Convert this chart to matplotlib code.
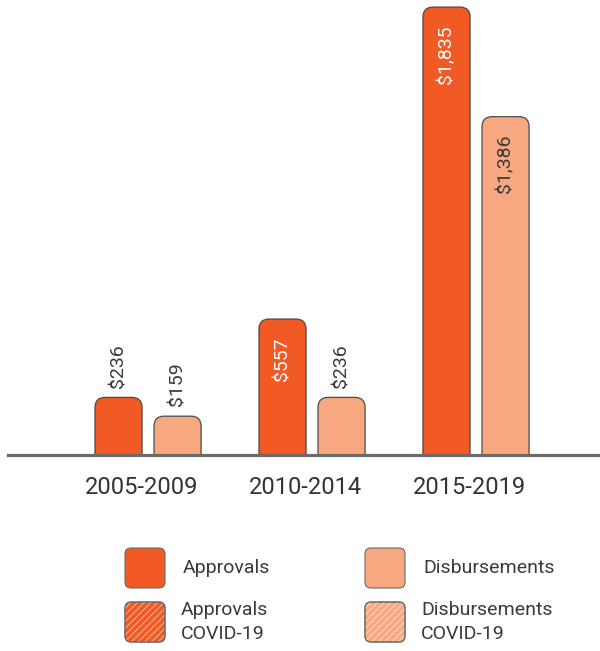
import matplotlib
matplotlib.use("Agg")
import matplotlib.pyplot as plt
from matplotlib.patches import FancyBboxPatch

periods = ["2005-2009", "2010-2014", "2015-2019"]
approvals = [236, 557, 1835]
disbursements = [159, 236, 1386]
legend_labels = ["Approvals", "Disbursements", "Approvals\nCOVID-19", "Disbursements\nCOVID-19"]

C_APP = "#F15A24"
C_DIS = "#F7A880"
EDGE = "#4a4a4a"
TXT = "#3a3a3a"

plt.rcParams['font.family'] = ['Roboto', 'DejaVu Sans']
plt.rcParams['hatch.linewidth'] = 0.7

W, H = 600, 651
fig = plt.figure(figsize=(W / 100, H / 100), dpi=100)
base_px = 455
ax = fig.add_axes([8 / W, (H - base_px) / H, 1 - 8 / W, base_px / H])
ax.set_xlim(-0.854, 2.756)
ax.set_ylim(0, 1864)

ux = (2.756 + 0.854) / (W - 8)
uy = 1864 / base_px
aspect = uy / ux
bw = 0.287
off = 0.18
r = 10 * ux

def rbar(xc, h, color):
    p = FancyBboxPatch((xc - bw / 2, -200), bw, h + 200,
                       boxstyle=f"round,pad=0,rounding_size={r}",
                       mutation_aspect=aspect, facecolor=color,
                       edgecolor=EDGE, linewidth=0.9, clip_on=True, zorder=2)
    ax.add_patch(p)

def label(xc, h, inside_color):
    s = f"${h:,}"
    if h > 300:
        ax.annotate(s, (xc, h), xytext=(0, -13), textcoords="offset points",
                    rotation=90, ha="center", va="top", color=inside_color,
                    fontsize=14, zorder=3)
    else:
        ax.annotate(s, (xc, h), xytext=(0, 7), textcoords="offset points",
                    rotation=90, ha="center", va="bottom", color=TXT,
                    fontsize=14, zorder=3)

for i in range(len(periods)):
    xa = i - off
    xd = i + off
    rbar(xa, approvals[i], C_APP)
    rbar(xd, disbursements[i], C_DIS)
    label(xa, approvals[i], "white")
    label(xd, disbursements[i], TXT)

ax.set_xticks([t - 0.04 for t in range(len(periods))])
ax.set_xticklabels(periods, fontsize=17, color="#333333")
ax.tick_params(axis="x", length=0, pad=15)
ax.set_yticks([])
for s in ["top", "right", "left"]:
    ax.spines[s].set_visible(False)
ax.spines["bottom"].set_color("#6b6b6b")
ax.spines["bottom"].set_linewidth(2.3)
ax.spines["bottom"].set_zorder(4)

lax = fig.add_axes([0, 0, 1, 1])
lax.set_xlim(0, W)
lax.set_ylim(H, 0)
lax.axis("off")

items = [
    (125, 548, C_APP, False, 183, legend_labels[0]),
    (365, 548, C_DIS, False, 423, legend_labels[1]),
    (125, 602, C_APP, True, 181, legend_labels[2]),
    (365, 602, C_DIS, True, 421, legend_labels[3]),
]
for x0, y0, col, hatch, tx, txt in items:
    p = FancyBboxPatch((x0, y0), 40, 40, boxstyle="round,pad=0,rounding_size=6",
                       facecolor=col, edgecolor="#6a6a6a", linewidth=0.8)
    lax.add_patch(p)
    if hatch:
        h = FancyBboxPatch((x0, y0), 40, 40, boxstyle="round,pad=0,rounding_size=6",
                           facecolor="none", edgecolor="#ffffff", hatch="/////",
                           linewidth=0, alpha=0.55)
        lax.add_patch(h)
        p2 = FancyBboxPatch((x0, y0), 40, 40, boxstyle="round,pad=0,rounding_size=6",
                            facecolor="none", edgecolor="#6a6a6a", linewidth=0.8)
        lax.add_patch(p2)
    lax.text(tx, y0 + 20, txt, ha="left", va="center", fontsize=14,
             color=TXT, linespacing=1.4)

fig.savefig("out.png", dpi=100)
